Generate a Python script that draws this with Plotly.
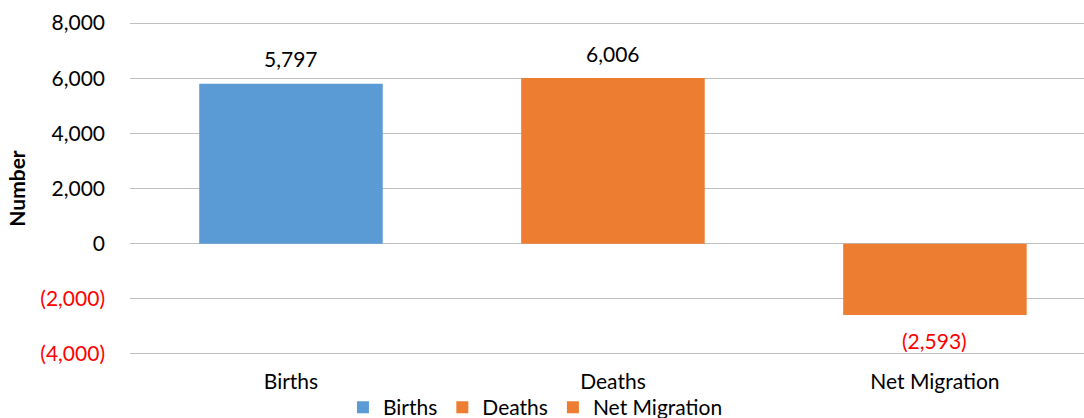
import plotly.graph_objects as go

categories = ["Births", "Deaths", "Net Migration"]
values = [5797, 6006, -2593]
colors = ["#5B9BD5", "#ED7D31", "#ED7D31"]
tick_vals = [-4000, -2000, 0, 2000, 4000, 6000, 8000]

def fmt(v):
    s = f"{abs(v):,}"
    return f"({s})" if v < 0 else s

tick_text = [f"<span style='color:red'>{fmt(v)}</span>" if v < 0 else fmt(v) for v in tick_vals]

FS = 21
fig = go.Figure()
for cat, val, col in zip(categories, values, colors):
    fig.add_trace(go.Bar(
        x=[cat], y=[val], name=cat, marker=dict(color=col, line=dict(width=0)),
        width=0.57,
    ))
    fig.add_annotation(
        x=cat, y=val, text=fmt(val), showarrow=False,
        yshift=25 if val >= 0 else -25,
        font=dict(size=FS, color="red" if val < 0 else "black"),
    )

font = "Lato, 'Open Sans', sans-serif"
fig.update_layout(
    width=1084, height=418,
    margin=dict(l=130, r=0, t=22, b=63, autoexpand=False),
    paper_bgcolor="white", plot_bgcolor="white",
    barmode="overlay",
    font=dict(family=font, size=FS, color="black"),
    showlegend=True,
    legend=dict(orientation="h", x=0.425, xanchor="center", y=-0.158, yanchor="middle",
                font=dict(size=21), itemwidth=30, tracegroupgap=0,
                borderwidth=0, bgcolor="rgba(0,0,0,0)"),
    xaxis=dict(range=[-0.5, 2.463], showgrid=False, showline=False, ticks="",
               tickfont=dict(size=FS), automargin=False, ticklabelstandoff=12),
    yaxis=dict(range=[-4040, 8040], tickvals=tick_vals, ticktext=tick_text,
               showgrid=True, gridcolor="#BFBFBF", gridwidth=1, zeroline=True,
               zerolinecolor="#BFBFBF", zerolinewidth=1, ticks="",
               ticklabelstandoff=24, automargin=False,
               title=dict(text="<b>Number</b>", font=dict(size=21), standoff=8)),
)
fig.write_html("out.html", config={"displayModeBar": False},
               post_script="document.body.style.margin='0';")
